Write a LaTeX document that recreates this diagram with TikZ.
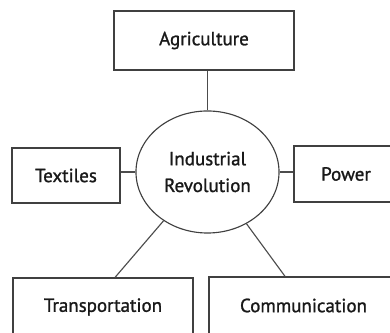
\documentclass[tikz,border=0pt]{standalone}
\usepackage{fontspec}
\setmainfont{PT Sans}[UprightFeatures={FakeBold=1.2}]
\usetikzlibrary{shapes.geometric}

\begin{document}
\begin{tikzpicture}[x=0.025cm,y=-0.025cm,font=\fontsize{13.5}{19}\selectfont,
  topic/.style={draw=black!75,line width=.8pt,fill=white,inner sep=0pt,text=black!90},
  link/.style={draw=black!70,line width=.8pt}]
\useasboundingbox (0,0) rectangle (390,333);
\node[topic,ellipse,minimum width=3.575cm,minimum height=3.05cm,align=center] (indrev) at (207.5,172) {Industrial\\Revolution};
\node[topic,minimum width=4.5cm,minimum height=1.475cm] (agri) at (204,40.5) {Agriculture};
\node[topic,minimum width=2.7cm,minimum height=1.375cm] (tex) at (66,175.5) {Textiles};
\node[topic,minimum width=2.6cm,minimum height=1.4cm] (pow) at (346,174) {Power};
\node[topic,minimum width=4.5cm,minimum height=1.45cm] (trans) at (103,307) {Transportation};
\node[topic,minimum width=4.725cm,minimum height=1.425cm] (comm) at (303.5,305.5) {Communication};
\draw[link] (indrev.north) -- (indrev.north |- agri.south);
\draw[link] (indrev.west) -- (indrev.west -| tex.east);
\draw[link] (indrev.east) -- (indrev.east -| pow.west);
\draw[link] (indrev.228) -- ([xshift=.3cm]trans.north);
\draw[link] (indrev.307) -- ([xshift=-.46cm]comm.north);
\end{tikzpicture}
\end{document}
